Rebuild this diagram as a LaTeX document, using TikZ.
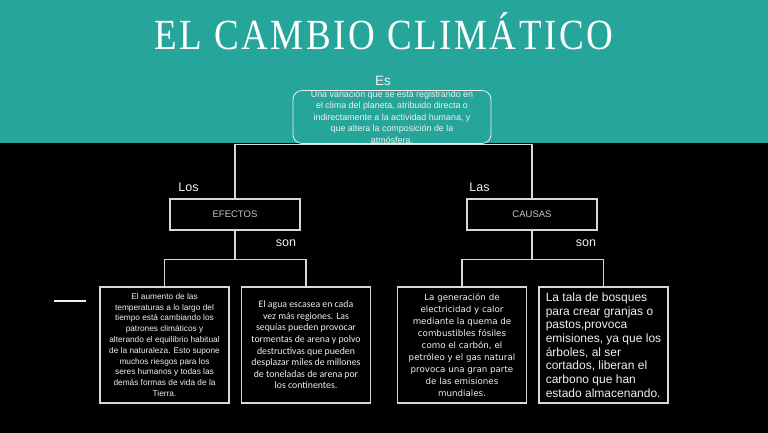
\documentclass[tikz,border=0pt]{standalone}
\usepackage{fontspec}
\setmainfont{Liberation Sans}
\newfontfamily\titlefont[LetterSpace=7]{Liberation Serif}
\newfontfamily\calfont{Carlito}
\newfontfamily\djfont{DejaVu Sans}
\definecolor{teal1}{RGB}{38,166,154}
\definecolor{linec}{RGB}{215,215,215}
\definecolor{txtc}{RGB}{240,240,240}
\definecolor{greyt}{RGB}{200,200,200}
\begin{document}
\begin{tikzpicture}[x=1pt,y=-1pt,
  conn/.style={draw=linec,line width=1.2pt},
  topbox/.style={draw=txtc,rounded corners=9pt,line width=0.8pt,minimum width=198pt,minimum height=53pt,inner sep=0pt,text=txtc,align=center},
  headbox/.style={draw=linec,line width=1.2pt,minimum width=130pt,minimum height=31pt,inner sep=0pt,text=greyt,font=\fontsize{9.5}{10}\selectfont},
  leafbox/.style={draw=linec,line width=1.2pt,minimum width=129pt,minimum height=116pt,inner sep=0pt,text=txtc,align=center},
  lbl/.style={text=txtc,inner sep=0pt,font=\fontsize{12.5}{13}\selectfont}]
\useasboundingbox (0,0) rectangle (768,433);
\fill[black] (0,0) rectangle (768,433);
\fill[teal1] (0,0) rectangle (768,143);
\node[text=white,inner sep=0pt,anchor=base] (title) at (384,50) {\titlefont\fontsize{43}{44}\selectfont\scalebox{0.86}[1]{EL CAMBIO CLIMÁTICO}};
\node[lbl,font=\fontsize{13.5}{14}\selectfont] (es) at (383,81) {Es};
\node[topbox,font=\fontsize{8.9}{11.4}\selectfont] (def) at (392,117) {Una variación que se está registrando en\\el clima del planeta, atribuido directa o\\indirectamente a la actividad humana, y\\que altera la composición de la\\atmósfera.};
\node[headbox] (efectos) at (235,214.5) {EFECTOS};
\node[headbox] (causas) at (532,214.5) {CAUSAS};
\node[lbl] (los) at (188.5,187.5) {Los};
\node[lbl] (las) at (479.5,187.5) {Las};
\node[lbl] (son1) at (286,243.5) {son};
\node[lbl] (son2) at (586,243.5) {son};
\node[leafbox,font=\fontsize{8.3}{10.8}\selectfont] (b1) at (164.5,345) {El aumento de las\\temperaturas a lo largo del\\tiempo está cambiando los\\patrones climáticos y\\alterando el equilibrio habitual\\de la naturaleza. Esto supone\\muchos riesgos para los\\seres humanos y todas las\\demás formas de vida de la\\Tierra.};
\node[leafbox,font=\calfont\fontsize{9.8}{11.6}\selectfont] (b2) at (306,345) {El agua escasea en cada\\vez más regiones. Las\\sequías pueden provocar\\tormentas de arena y polvo\\destructivas que pueden\\desplazar miles de millones\\de toneladas de arena por\\los continentes.};
\node[leafbox,font=\djfont\fontsize{8.7}{12}\selectfont] (b3) at (462,345) {La generación de\\electricidad y calor\\mediante la quema de\\combustibles fósiles\\como el carbón, el\\petróleo y el gas natural\\provoca una gran parte\\de las emisiones\\mundiales.};
\node[leafbox,align=left,font=\fontsize{12}{13.7}\selectfont] (b4) at (603.5,345) {La tala de bosques\\para crear granjas o\\pastos,provoca\\emisiones, ya que los\\árboles, al ser\\cortados, liberan el\\carbono que han\\estado almacenando.};
\draw[conn] (efectos.north) -- ++(0,-54) -| (causas.north);
\draw[conn] (efectos.south) -- ++(0,29) coordinate (j1);
\draw[conn] (b1.north) |- (j1) -| (b2.north);
\draw[conn] (causas.south) -- ++(0,29) coordinate (j2);
\draw[conn] (b3.north) |- (j2) -| (b4.north);
\coordinate (m1) at (54,301);
\coordinate (m2) at (86,301);
\draw[draw=txtc,line width=2pt] (m1) -- (m2);
\end{tikzpicture}
\end{document}
